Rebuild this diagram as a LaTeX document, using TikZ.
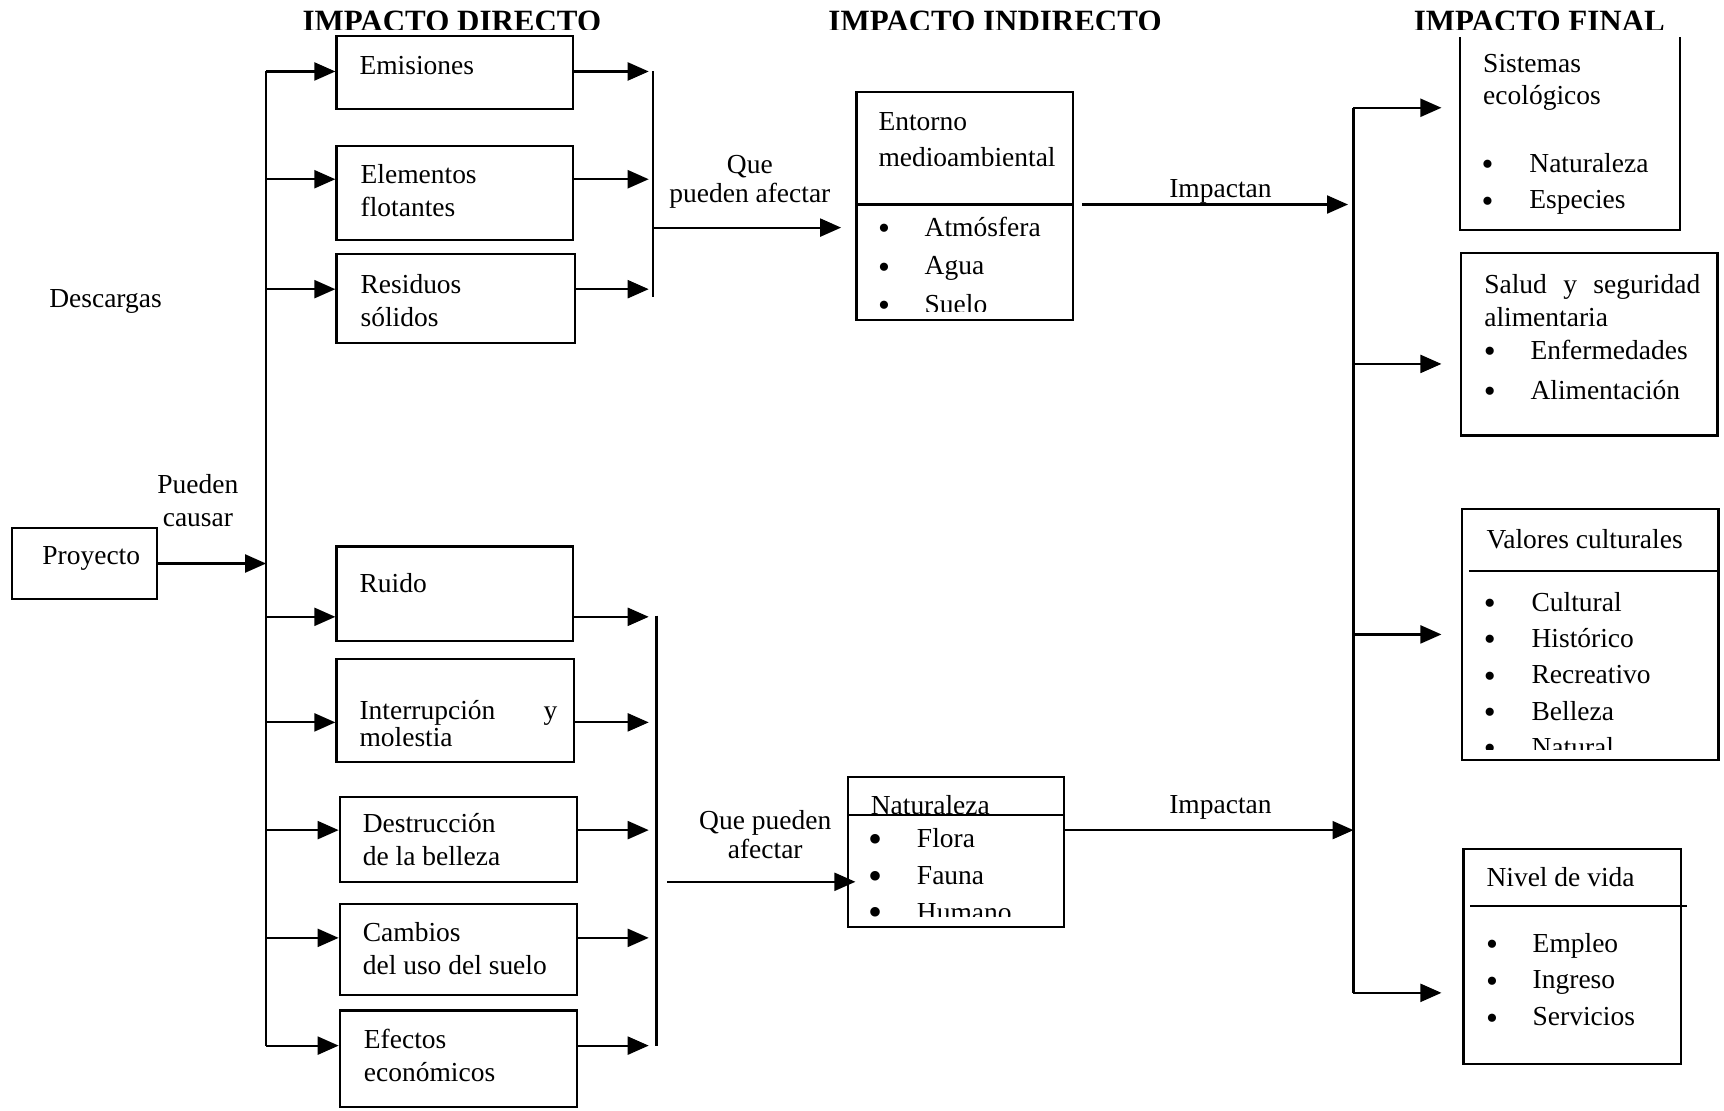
\documentclass[tikz,border=0pt]{standalone}
\usepackage{fontspec}
\setmainfont{Liberation Serif}
\usetikzlibrary{arrows.meta,fit}

\begin{document}
\begin{tikzpicture}[x=0.55pt,y=-0.55pt,line width=1.1pt,
    font=\fontsize{13.75}{16.5}\selectfont,
    box/.style={draw,inner sep=0pt},
    txt/.style={anchor=west,inner sep=0pt,align=left},
    itm/.style={txt,text height=12.8pt,text depth=3pt},
    bul/.style={inner sep=0pt,yshift=-2.2pt,font=\fontsize{17}{18}\selectfont},
    lbl/.style={inner sep=0pt,align=center},
    ttl/.style={anchor=base,inner sep=0pt,font=\fontsize{15.5}{18}\selectfont\bfseries},
    arr/.style={-{Triangle[length=10.5pt,width=9pt]}}]
\useasboundingbox (0,0) rectangle (1568,1010);

% headings, cut at the bottom
\begin{scope}
    \clip (0,0) rectangle (1568,27);
    \node[ttl] (h-dir) at (411,29) {IMPACTO DIRECTO};
    \node[ttl] (h-ind) at (905,29) {IMPACTO INDIRECTO};
    \node[ttl] (h-fin) at (1400,29) {IMPACTO FINAL};
\end{scope}

% project
\node[box,fit={(11,480)(143,545)}] (proy) {};
\node[lbl] (proy-t) at (83,508) {Proyecto};
\node[lbl] (causar) at (180,455) {Pueden\\causar};
\node[lbl] (desc) at (96,274) {Descargas};
\coordinate (busL-top) at (242,65);
\coordinate (busL-bot) at (242,951);
\draw (busL-top) -- (busL-bot);
\draw[arr] (proy.east) -- (busL-top |- proy.east);

% direct impacts
\node[box,fit={(306,33)(521,99)}] (emis) {};
\node[box,fit={(306,133)(521,218)}] (flot) {};
\node[box,fit={(306,231)(523,312)}] (resid) {};
\node[box,fit={(306,497)(521,583)}] (ruido) {};
\node[box,fit={(306,599)(522,693)}] (interr) {};
\node[box,fit={(309,725)(525,802)}] (destr) {};
\node[box,fit={(309,822)(525,905)}] (cambio) {};
\node[box,fit={(309,919)(525,1007)}] (econ) {};
\node[txt] (emis-t) at (326,60) {Emisiones};
\node[txt] (flot-t) at (327,173) {Elementos\\flotantes};
\node[txt] (resid-t) at (327,273) {Residuos\\sólidos};
\node[txt] (ruido-t) at (326,530) {Ruido};
\node[txt,font=\fontsize{13.75}{13.2}\selectfont] (interr-t) at (326,658) {\hbox to 99pt{Interrupción\hfill y}\\molestia};
\node[txt] (destr-t) at (329,764) {Destrucción\\de la belleza};
\node[txt] (cambio-t) at (329,863) {Cambios\\del uso del suelo};
\node[txt] (econ-t) at (330,960) {Efectos\\económicos};

% collecting bars
\coordinate (barT-top) at (594,65);
\coordinate (barT-bot) at (594,270);
\coordinate (barB-top) at (597,560);
\coordinate (barB-bot) at (597,951);
\draw (barT-top) -- (barT-bot);
\draw (barB-top) -- (barB-bot);
\coordinate (tipD) at (590,0);
\foreach \nm/\yy in {emis/65,flot/163,resid/263,ruido/561,interr/657,destr/755,cambio/853,econ/951} {
    \coordinate (row-\nm) at (0,\yy);
    \draw[arr] (busL-top |- row-\nm) -- (\nm.west |- row-\nm);
    \draw[arr] (\nm.east |- row-\nm) -- (tipD |- row-\nm);
}

% indirect impacts
\node[lbl,font=\fontsize{13.75}{14.85}\selectfont] (afect1) at (682,165.5) {Que\\pueden afectar};
\node[lbl,font=\fontsize{13.75}{14.85}\selectfont] (afect2) at (696,759) {Que pueden\\afectar};
\node[box,fit={(779,84)(976,291)}] (ent) {};
\draw (779,186) -- (976,186);
\node[txt,font=\fontsize{13.75}{17.6}\selectfont] (ent-t) at (798,127) {Entorno\\medioambiental};
\begin{scope}
    \clip (779,84) rectangle (976,283);
    \foreach \t [count=\i from 0] in {Atmósfera,Agua,Suelo} {
        \node[bul] (ent-b\i) at (804,207+35*\i) {\textbullet};
        \node[itm] (ent-i\i) at (840,206+35*\i) {\t};
    }
\end{scope}
\coordinate (row-ent) at (0,207);
\coordinate (tipE) at (765,0);
\draw[arr] (barT-top |- row-ent) -- (tipE |- row-ent);

\node[box,fit={(771,707)(968,843)}] (nat) {};
\draw (771,741) -- (968,741);
\node[txt] (nat-t) at (791,732) {Naturaleza};
\begin{scope}
    \clip (771,707) rectangle (968,834);
    \foreach \t [count=\i from 0] in {Flora,Fauna,Humano} {
        \node[bul,font=\fontsize{20}{22}\selectfont] (nat-b\i) at (796,763+33.5*\i) {\textbullet};
        \node[itm] (nat-i\i) at (833,762+33.5*\i) {\t};
    }
\end{scope}
\coordinate (startN) at (607,802);
\coordinate (tipN) at (778,0);
\draw[arr] (startN) -- (tipN |- startN);

% final impacts
\coordinate (busR-top) at (1231,98);
\coordinate (busR-bot) at (1231,903);
\draw (busR-top) -- (busR-bot);
\coordinate (startE) at (984,186);
\coordinate (tipR) at (1226,0);
\draw[arr] (startE) -- (tipR |- startE);
\node[lbl] (imp1) at (1110,174) {Impactan};
\coordinate (row-nat) at (0,755);
\draw[arr] (nat.east |- row-nat) -- (busR-top |- row-nat);
\node[lbl] (imp2) at (1110,734) {Impactan};

\node[inner sep=0pt,fit={(1329,35)(1527,208)}] (sis) {};
\draw (sis.north west) |- (sis.south east) -- (sis.north east);
\node[txt,font=\fontsize{13.75}{15.95}\selectfont] (sis-t) at (1348,75) {Sistemas\\ecológicos};
\foreach \t [count=\i from 0] in {Naturaleza,Especies} {
    \node[bul] (sis-b\i) at (1353,149+33*\i) {\textbullet};
    \node[itm] (sis-i\i) at (1390,148+33*\i) {\t};
}

\node[box,fit={(1329,230)(1562,396)}] (sal) {};
\node[txt] (sal-t) at (1349,273) {\hbox to 108pt{Salud\hfill y\hfill seguridad}\\alimentaria};
\foreach \t [count=\i from 0] in {Enfermedades,Alimentación} {
    \node[bul] (sal-b\i) at (1355,319+36*\i) {\textbullet};
    \node[itm] (sal-i\i) at (1391,318+36*\i) {\t};
}

\node[box,fit={(1330,463)(1563,691)}] (val) {};
\draw (1336,519) -- (1563,519);
\node[txt] (val-t) at (1351,490) {Valores culturales};
\begin{scope}
    \clip (1330,463) rectangle (1563,682);
    \foreach \t [count=\i from 0] in {Cultural,Histórico,Recreativo,Belleza,Natural} {
        \node[bul] (val-b\i) at (1355,548+33*\i) {\textbullet};
        \node[itm] (val-i\i) at (1392,547+33*\i) {\t};
    }
\end{scope}

\node[box,fit={(1331,772)(1529,968)}] (niv) {};
\draw (1337,824) -- (1534,824);
\node[txt] (niv-t) at (1351,798) {Nivel de vida};
\foreach \t [count=\i from 0] in {Empleo,Ingreso,Servicios} {
    \node[bul] (niv-b\i) at (1357,858+33.5*\i) {\textbullet};
    \node[itm] (niv-i\i) at (1393,857+33.5*\i) {\t};
}

\coordinate (tipF) at (1311,0);
\foreach \nm/\yy in {sis/98,sal/331,val/577,niv/903} {
    \coordinate (row-\nm) at (0,\yy);
    \draw[arr] (busR-top |- row-\nm) -- (tipF |- row-\nm);
}
\end{tikzpicture}
\end{document}
